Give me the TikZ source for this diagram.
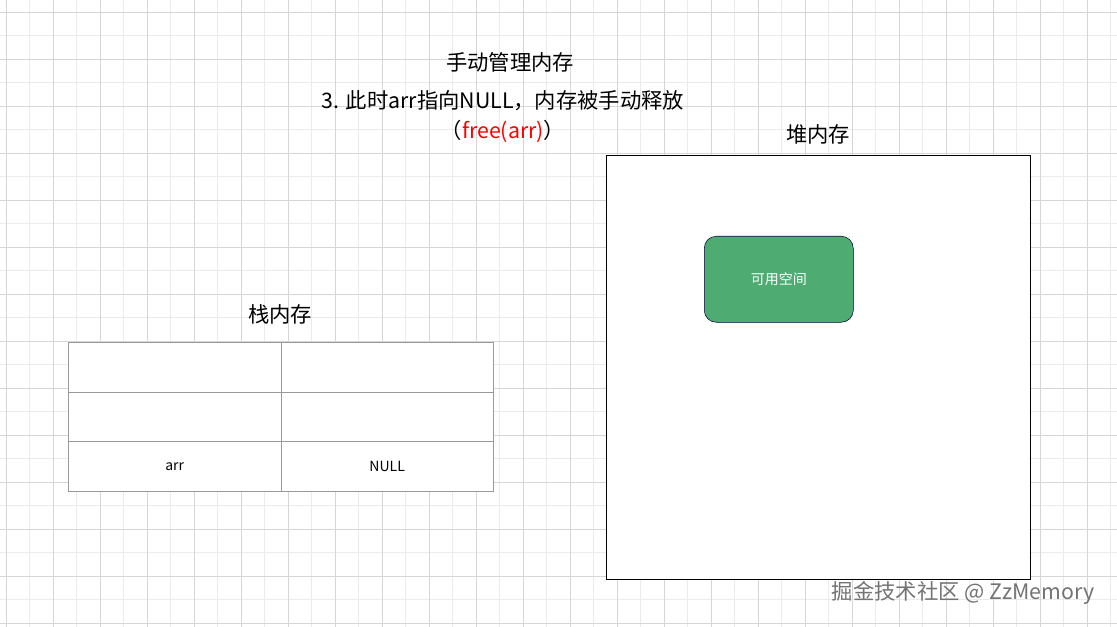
\documentclass[tikz,border=0pt]{standalone}
\usepackage{fontspec}
\setmainfont{Noto Sans CJK SC}
\begin{document}
\begin{tikzpicture}[x=0.75pt,y=-0.75pt,
  fs/.style={font=\fontsize{#1}{#1}\selectfont},
  cell/.style={draw=black!40,line width=0.6pt,minimum width=212.5*0.75pt,minimum height=49.7*0.75pt,inner sep=0pt,anchor=north west}]
\fill[white] (0,0) rectangle (1117,627);
\useasboundingbox (0,0) rectangle (1117,627);
\foreach \i in {0,...,47} {\draw[black!8,line width=0.5pt] (6+\i*23.5,0) -- (6+\i*23.5,627);}
\foreach \i in {0,...,26} {\draw[black!8,line width=0.5pt] (0,12+\i*23.5) -- (1117,12+\i*23.5);}
\foreach \i in {0,...,23} {\draw[black!16,line width=0.6pt] (6+\i*47,0) -- (6+\i*47,627);}
\foreach \i in {0,...,13} {\draw[black!16,line width=0.6pt] (0,12+\i*47) -- (1117,12+\i*47);}
\node[fs=16] (title) at (510,62) {手动管理内存};
\node[fs=16] (sub) at (503,101) {3. 此时arr指向NULL，内存被手动释放};
\node[fs=16] (free) at (503,131) {（\textcolor{red}{free(arr)}）};
\node[fs=16] (heapt) at (818,134) {堆内存};
\node[draw=black,line width=0.6pt,fill=white,minimum width=424*0.75pt,minimum height=424*0.75pt,inner sep=0pt,anchor=north west] (heap) at (606,155) {};
\node[draw=black!80!blue,fill={rgb,255:red,78;green,172;blue,115},rounded corners=9pt,minimum width=149*0.75pt,minimum height=86*0.75pt,inner sep=0pt,text=white,fs=10.5,anchor=north west] (space) at (704,236) {可用空间};
\node[fs=16] (stackt) at (280,314) {栈内存};
\node[cell,fill=white] (c11) at (68,342) {};
\node[cell,fill=white] (c12) at (280.5,342) {};
\node[cell,fill=white] (c21) at (68,391.7) {};
\node[cell,fill=white] (c22) at (280.5,391.7) {};
\node[cell,fill=white,fs=10.5] (c31) at (68,441.4) {arr};
\node[cell,fill=white,fs=10.5] (c32) at (280.5,441.4) {NULL};
\node[fs=16,text=black!55,anchor=east] (wm) at (1099,593) {掘金技术社区 @ ZzMemory};
\end{tikzpicture}
\end{document}
